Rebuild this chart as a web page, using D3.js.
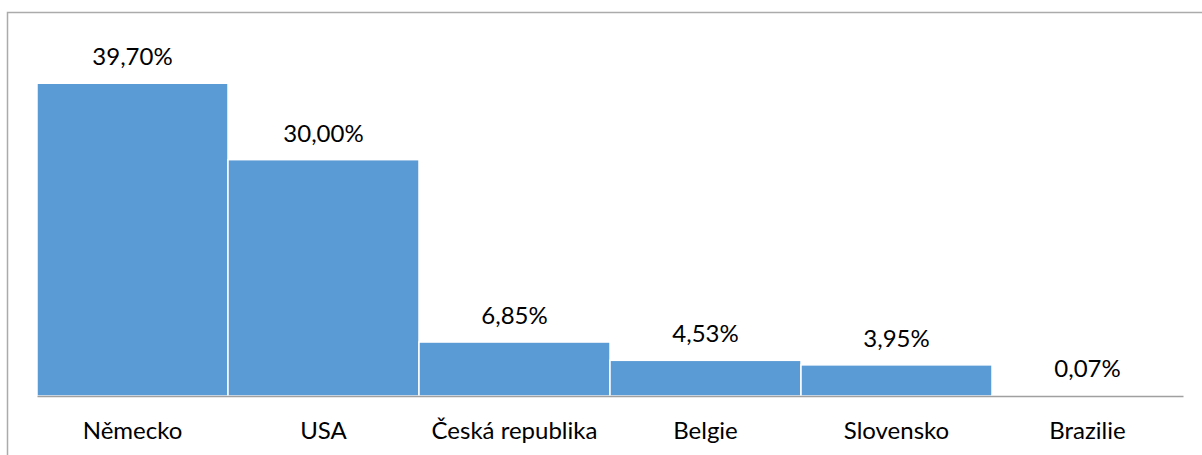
<!DOCTYPE html>
<html>
<head>
<meta charset="utf-8">
<script src="https://cdn.jsdelivr.net/npm/d3@7"></script>
<style>
html,body{margin:0;padding:0;background:#fff;}
svg{display:block;}
text{font-family:"Lato","Open Sans",sans-serif;fill:#000;}
</style>
</head>
<body>
<svg id="chart" width="1202" height="455"></svg>
<script>
const categories = ["Německo", "USA", "Česká republika", "Belgie", "Slovensko", "Brazilie"];
const values = [39.70, 30.00, 6.85, 4.53, 3.95, 0.07];
const valueLabels = ["39,70%", "30,00%", "6,85%", "4,53%", "3,95%", "0,07%"];

const svg = d3.select("#chart");
const W = 1202, H = 455;

// outer frame
svg.append("path")
  .attr("d", `M7.5,${H} L7.5,12.5 L${W},12.5`)
  .attr("fill", "none")
  .attr("stroke", "#ABABAB")
  .attr("stroke-width", 1.5);

const x = d3.scaleBand().domain(categories).range([37, 1183]).padding(0);
const y = d3.scaleLinear().domain([0, 45]).range([396, 41.5]);

svg.selectAll("rect.bar")
  .data(values)
  .join("rect")
  .attr("class", "bar")
  .attr("x", (d, i) => x(categories[i]))
  .attr("width", x.bandwidth())
  .attr("y", d => y(d))
  .attr("height", d => y(0) - y(d))
  .attr("fill", "#5B9BD5")
  .attr("stroke", "#fff")
  .attr("stroke-width", 1.5);

// axis line
const axis = d3.axisBottom(x).tickSize(0).tickPadding(0).tickFormat(() => "");
const gAxis = svg.append("g").attr("transform", `translate(0,${y(0)})`).call(axis);
gAxis.select(".domain").attr("stroke", "#A0A0A0").attr("stroke-width", 1.5);

// category labels
svg.selectAll("text.cat")
  .data(categories)
  .join("text")
  .attr("class", "cat")
  .attr("x", d => x(d) + x.bandwidth() / 2)
  .attr("y", 439)
  .attr("text-anchor", "middle")
  .attr("font-size", 24)
  .text(d => d);

// value labels
svg.selectAll("text.val")
  .data(values)
  .join("text")
  .attr("class", "val")
  .attr("x", (d, i) => x(categories[i]) + x.bandwidth() / 2)
  .attr("y", d => y(d) - 18)
  .attr("text-anchor", "middle")
  .attr("font-size", 24)
  .text((d, i) => valueLabels[i]);
</script>
</body>
</html>
